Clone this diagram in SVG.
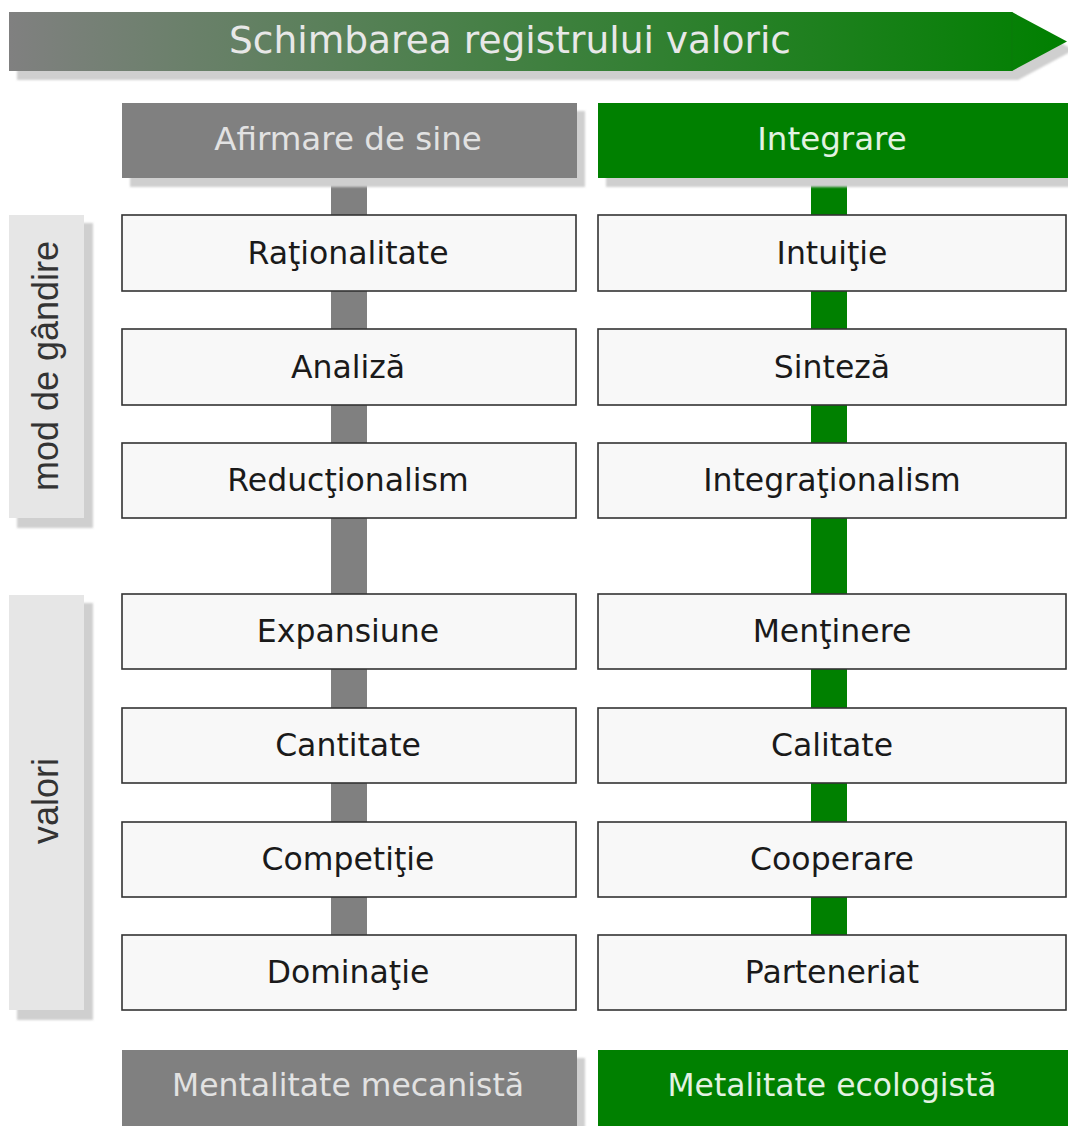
<svg xmlns="http://www.w3.org/2000/svg" width="1068" height="1126" viewBox="0 0 1068 1126">
<defs>
<linearGradient id="grad" x1="0" y1="0" x2="1" y2="0">
<stop offset="0" stop-color="#808080"/>
<stop offset="1" stop-color="#008000"/>
</linearGradient>
<filter id="blur" x="-5%" y="-5%" width="110%" height="110%"><feGaussianBlur stdDeviation="1.2"/></filter>
<style>
.node rect.box{fill:#f8f8f8;stroke:#333;stroke-width:1.6}
.node text{font-family:"DejaVu Sans",Verdana,sans-serif;font-size:31.5px;fill:#1a1a1a;text-anchor:middle}
.shadow{fill:#cfcfcf;filter:url(#blur)}
.hdr text{font-family:"DejaVu Sans",Verdana,sans-serif;font-size:32.5px;text-anchor:middle}
.gray{fill:#808080}
.green{fill:#008000}
.side{fill:#e6e6e6}
.side text{font-family:"Liberation Sans",Arial,sans-serif;font-size:36px;fill:#333;text-anchor:middle}
.bar-l{fill:#808080}
.bar-r{fill:#008000}
</style>
</defs>
<rect width="1068" height="1126" fill="#fff"/>

<g id="title">
<polygon class="shadow" points="17,20 1018,20 1074,50 1018,80 17,80"/>
<polygon points="9,12 1012,12 1067,41.5 1012,71 9,71" fill="url(#grad)"/>
<line x1="1012" y1="12" x2="1012" y2="71" stroke="#0a7a0a" stroke-width="1"/>
<text x="510" y="53" font-family="'DejaVu Sans',Verdana,sans-serif" font-size="38" fill="#e8e8e8" text-anchor="middle" textLength="562" lengthAdjust="spacingAndGlyphs">Schimbarea registrului valoric</text>
</g>

<g id="connectors">
<rect class="bar-l" x="331" y="178" width="36" height="757"/>
<rect class="bar-r" x="811" y="178" width="36" height="757"/>
</g>

<g id="side-mod" class="side">
<rect class="shadow" x="17" y="223" width="76" height="305"/>
<rect x="9" y="215" width="75" height="303" class="side"/>
<text transform="translate(58,366) rotate(-90)">mod de gândire</text>
</g>
<g id="side-valori" class="side">
<rect class="shadow" x="17" y="603" width="76" height="417"/>
<rect x="9" y="595" width="75" height="415" class="side"/>
<text transform="translate(58,801) rotate(-90)">valori</text>
</g>

<g id="hdr-left" class="hdr">
<rect class="shadow" x="130" y="111" width="455" height="76"/>
<rect class="gray" x="122" y="103" width="455" height="75"/>
<text x="348" y="150" fill="#e2e2e2">Afirmare de sine</text>
</g>
<g id="hdr-right" class="hdr">
<rect class="shadow" x="606" y="111" width="470" height="76"/>
<rect class="green" x="598" y="103" width="470" height="75"/>
<text x="832" y="150" fill="#e2f2e2">Integrare</text>
</g>

<g id="n-rationalitate" class="node"><rect class="box" x="122" y="215" width="454" height="76"/><text x="348" y="264">Raţionalitate</text></g>
<g id="n-analiza" class="node"><rect class="box" x="122" y="329" width="454" height="76"/><text x="348" y="378">Analiză</text></g>
<g id="n-reductionalism" class="node"><rect class="box" x="122" y="443" width="454" height="75"/><text x="348" y="491">Reducţionalism</text></g>
<g id="n-expansiune" class="node"><rect class="box" x="122" y="594" width="454" height="75"/><text x="348" y="642">Expansiune</text></g>
<g id="n-cantitate" class="node"><rect class="box" x="122" y="708" width="454" height="75"/><text x="348" y="756">Cantitate</text></g>
<g id="n-competitie" class="node"><rect class="box" x="122" y="822" width="454" height="75"/><text x="348" y="870">Competiţie</text></g>
<g id="n-dominatie" class="node"><rect class="box" x="122" y="935" width="454" height="75"/><text x="348" y="983">Dominaţie</text></g>

<g id="n-intuitie" class="node"><rect class="box" x="598" y="215" width="468" height="76"/><text x="832" y="264">Intuiţie</text></g>
<g id="n-sinteza" class="node"><rect class="box" x="598" y="329" width="468" height="76"/><text x="832" y="378">Sinteză</text></g>
<g id="n-integrationalism" class="node"><rect class="box" x="598" y="443" width="468" height="75"/><text x="832" y="491">Integraţionalism</text></g>
<g id="n-mentinere" class="node"><rect class="box" x="598" y="594" width="468" height="75"/><text x="832" y="642">Menţinere</text></g>
<g id="n-calitate" class="node"><rect class="box" x="598" y="708" width="468" height="75"/><text x="832" y="756">Calitate</text></g>
<g id="n-cooperare" class="node"><rect class="box" x="598" y="822" width="468" height="75"/><text x="832" y="870">Cooperare</text></g>
<g id="n-parteneriat" class="node"><rect class="box" x="598" y="935" width="468" height="75"/><text x="832" y="983">Parteneriat</text></g>

<g id="foot-left" class="hdr">
<rect class="shadow" x="130" y="1058" width="455" height="76"/>
<rect class="gray" x="122" y="1050" width="455" height="76"/>
<text x="348" y="1096" fill="#e2e2e2" font-size="32" textLength="352" lengthAdjust="spacingAndGlyphs">Mentalitate mecanistă</text>
</g>
<g id="foot-right" class="hdr">
<rect class="green" x="598" y="1050" width="470" height="76"/>
<text x="832" y="1096" fill="#e2f2e2" font-size="32" textLength="329" lengthAdjust="spacingAndGlyphs">Metalitate ecologistă</text>
</g>
</svg>
